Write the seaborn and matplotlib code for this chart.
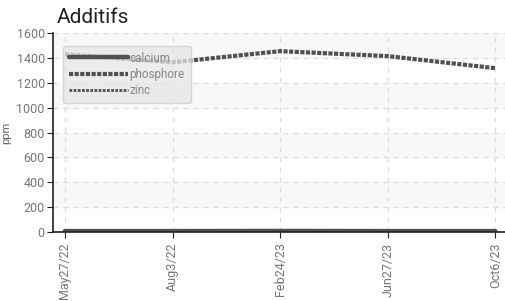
import pandas as pd
import numpy as np
import matplotlib
matplotlib.use("Agg")
import matplotlib.pyplot as plt
import seaborn as sns

# data
dates = ["May27/22", "Aug3/22", "Feb24/23", "Jun27/23", "Oct6/23"]
calcium = [8, 8, 9, 8, 8]
phosphore = [1430, 1365, 1455, 1415, 1318]
zinc = [5, 5, 6, 5, 5]

df = pd.DataFrame({"date": dates, "calcium": calcium,
                   "phosphore": phosphore, "zinc": zinc})
df["pos"] = np.arange(len(dates))
long = df.melt(id_vars=["date", "pos"], var_name="element", value_name="ppm")

sns.set_style("white")
plt.rcParams["font.family"] = ["Roboto", "DejaVu Sans"]

fig = plt.figure(figsize=(5.06, 3.01), dpi=100)
ax = fig.add_axes([0.105, 0.229, 0.893, 0.661])

line_col = "#505050"
ax = sns.lineplot(data=long, x="pos", y="ppm", hue="element", style="element",
                  palette=[line_col] * 3,
                  dashes={"calcium": "", "phosphore": (1.0, 0.35), "zinc": (1.0, 0.5)},
                  ax=ax, legend=True)
widths = {"calcium": 3.2, "phosphore": 3.0, "zinc": 2.0}
for ln, name in zip(ax.get_lines(), ["calcium", "phosphore", "zinc"]):
    ln.set_linewidth(widths[name])

# alternating bands
for lo in [200, 600, 1000, 1400]:
    ax.axhspan(lo, lo + 200, color="#f8f8f8", zorder=0)

ax.set_xlim(-0.11, 4.09)
ax.set_ylim(0, 1600)
ax.set_yticks(range(0, 1601, 200))
ax.set_xticks(df["pos"])
ax.set_xticklabels(dates, rotation=90, color="#777777", fontsize=9)
ax.tick_params(axis="y", labelcolor="#777777", labelsize=9, length=4, pad=2,
               direction="out", left=True, color="#222222")
ax.tick_params(axis="x", length=4, direction="out", bottom=True, color="#222222")
ax.grid(True, linestyle=(0, (4, 4)), color="#dddddd", linewidth=0.9)
ax.set_axisbelow(True)
for s in ["top", "right"]:
    ax.spines[s].set_visible(False)
for s in ["left", "bottom"]:
    ax.spines[s].set_color("#222222")
    ax.spines[s].set_linewidth(1.2)

ax.set_xlabel("")
ax.set_ylabel("ppm", color="#666666", fontsize=8)
fig.text(0.112, 0.925, "Additifs", fontsize=15, color="#222222")

leg = ax.legend(loc="upper left", bbox_to_anchor=(0.015, 0.955), frameon=True,
                fontsize=8.5, handlelength=5.0, handletextpad=0.1,
                labelspacing=0.28, borderpad=0.5, borderaxespad=0.3)
for t in leg.get_texts():
    t.set_color("#888888")
for h, name in zip(leg.get_lines(), ["calcium", "phosphore", "zinc"]):
    h.set_linewidth(widths[name])
frame = leg.get_frame()
frame.set_facecolor("#e6e6e6")
frame.set_alpha(0.75)
frame.set_edgecolor("#cccccc")

fig.savefig("out.png", dpi=100)
